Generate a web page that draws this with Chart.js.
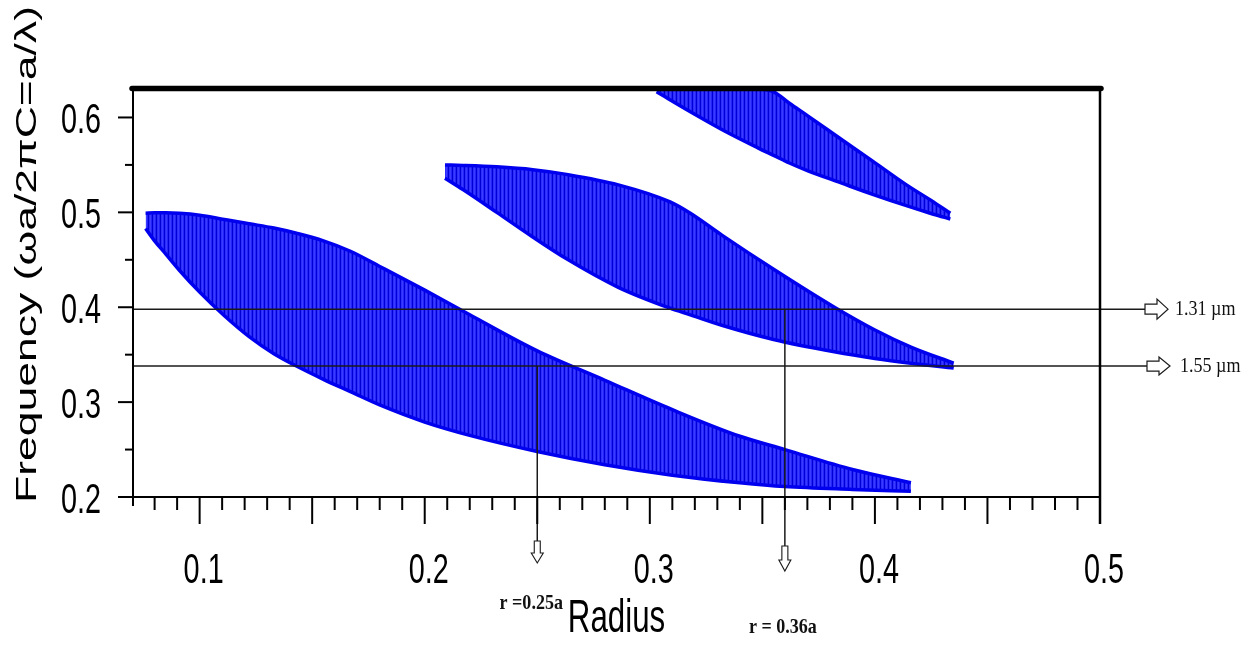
<!DOCTYPE html>
<html>
<head>
<meta charset="utf-8">
<script src="https://cdn.jsdelivr.net/npm/chart.js@4.4.1/dist/chart.umd.min.js"></script>
<style>
  html, body { margin: 0; padding: 0; background: #fff; }
  #wrap { width: 1247px; height: 650px; }
</style>
</head>
<body>
<div id="wrap"><canvas id="bandgap-chart" width="1247" height="650"></canvas></div>
<script>
// lowest gap
const band1Radius = [0.076, 0.080, 0.085, 0.091, 0.1, 0.111, 0.122, 0.133, 0.143, 0.155, 0.167, 0.18, 0.2, 0.22, 0.25, 0.28, 0.31, 0.34, 0.36, 0.39, 0.416];
const band1Lower  = [0.483, 0.470, 0.456, 0.439, 0.416, 0.391, 0.369, 0.351, 0.338, 0.324, 0.311, 0.297, 0.279, 0.265, 0.248, 0.234, 0.223, 0.215, 0.211, 0.208, 0.206];
const band1Upper  = [0.499, 0.4995, 0.4995, 0.499, 0.497, 0.4925, 0.488, 0.4835, 0.478, 0.470, 0.459, 0.443, 0.418, 0.392, 0.354, 0.323, 0.292, 0.264, 0.250, 0.229, 0.215];

// middle gap
const band2Radius = [0.209, 0.217, 0.232, 0.248, 0.263, 0.286, 0.309, 0.318, 0.332, 0.355, 0.382, 0.40, 0.416, 0.435];
const band2Lower  = [0.536, 0.524, 0.500, 0.474, 0.451, 0.421, 0.399, 0.392, 0.381, 0.366, 0.353, 0.346, 0.341, 0.336];
const band2Upper  = [0.550, 0.5495, 0.548, 0.545, 0.540, 0.529, 0.511, 0.499, 0.476, 0.440, 0.400, 0.376, 0.358, 0.341];

// top gap (cut off by the top of the plot)
const band3Radius = [0.303, 0.318, 0.333, 0.348, 0.355, 0.362, 0.370, 0.385, 0.399, 0.414, 0.426, 0.4335];
const band3Lower  = [0.627, 0.606, 0.586, 0.568, 0.560, 0.552, 0.544, 0.531, 0.519, 0.507, 0.498, 0.493];
const band3Upper  = [0.630, 0.630, 0.630, 0.630, 0.627, 0.615, 0.602, 0.577, 0.554, 0.529, 0.511, 0.499];

const xTickValues = [0.1, 0.2, 0.3, 0.4, 0.5];
const xTickLabels = ['0.1', '0.2', '0.3', '0.4', '0.5'];
const yTickValues = [0.2, 0.3, 0.4, 0.5, 0.6];
const yTickLabels = ['0.2', '0.3', '0.4', '0.5', '0.6'];

const wavelengthFreqs  = [0.398, 0.338];
const wavelengthLabels = ['1.31 µm', '1.55 µm'];
const radiusMarks      = [0.25, 0.36];
const radiusMarkFrom   = [0.338, 0.398];
const radiusLabels     = ['r =0.25a', 'r = 0.36a'];

const xAxisTitle = 'Radius';
const yAxisTitle = 'Frequency (\u03c9a/2\u03c0C=a/\u03bb)';

const canvas = document.getElementById('bandgap-chart');
const ctx = canvas.getContext('2d');

function stripePattern() {
  const c = document.createElement('canvas');
  c.width = 4; c.height = 4;
  const g = c.getContext('2d');
  ['#0000d4', '#2c2cff', '#3c3cff', '#2424fa'].forEach((col, i) => {
    g.fillStyle = col;
    g.fillRect(i, 0, 1, 4);
  });
  return ctx.createPattern(c, 'repeat');
}
const stripes = stripePattern();

function pts(xs, ys) {
  return xs.map((x, i) => ({ x: x, y: ys[i] }));
}

function edge(xs, ys, fill) {
  return {
    data: pts(xs, ys),
    borderColor: '#0000ee',
    borderWidth: 3.5,
    pointRadius: 0,
    cubicInterpolationMode: 'monotone',
    fill: fill,
    backgroundColor: stripes
  };
}

function squeezed(text, x, y, sx, align) {
  ctx.save();
  ctx.translate(x, y);
  ctx.scale(sx, 1);
  ctx.textAlign = align;
  ctx.fillText(text, 0, 0);
  ctx.restore();
}

function line(x1, y1, x2, y2) {
  ctx.beginPath();
  ctx.moveTo(x1, y1);
  ctx.lineTo(x2, y2);
  ctx.stroke();
}

// hollow block arrows
function arrowRight(x, y, shaft, head, half) {
  ctx.beginPath();
  ctx.moveTo(x, y - 5);
  ctx.lineTo(x + shaft, y - 5);
  ctx.lineTo(x + shaft, y - half);
  ctx.lineTo(x + shaft + head, y);
  ctx.lineTo(x + shaft, y + half);
  ctx.lineTo(x + shaft, y + 5);
  ctx.lineTo(x, y + 5);
  ctx.closePath();
  ctx.fillStyle = '#fff';
  ctx.fill();
  ctx.stroke();
}

function arrowDown(x, y, shaft, head) {
  ctx.beginPath();
  ctx.moveTo(x - 3, y);
  ctx.lineTo(x - 3, y + shaft);
  ctx.lineTo(x - 6, y + shaft);
  ctx.lineTo(x, y + shaft + head);
  ctx.lineTo(x + 6, y + shaft);
  ctx.lineTo(x + 3, y + shaft);
  ctx.lineTo(x + 3, y);
  ctx.closePath();
  ctx.fillStyle = '#fff';
  ctx.fill();
  ctx.stroke();
}

const framePlugin = {
  id: 'frame',
  afterDraw(chart) {
    const xs = chart.scales.x, ys = chart.scales.y;
    const a = chart.chartArea;
    ctx.save();
    ctx.strokeStyle = '#1a1a1a';

    // wavelength lines and arrows
    wavelengthFreqs.forEach((f, i) => {
      const py = ys.getPixelForValue(f);
      const end = a.right + 45 + i * 2;
      ctx.lineWidth = 1.5;
      line(a.left, py, end, py);
      ctx.lineWidth = 1.2;
      arrowRight(end, py, 12, 11, i === 0 ? 10 : 9);
      ctx.fillStyle = '#111';
      ctx.font = '22px "Liberation Serif", "Times New Roman", serif';
      ctx.textBaseline = 'middle';
      squeezed(wavelengthLabels[i], end + 30 + i * 3, py, 0.82, 'left');
    });

    // radius markers
    radiusMarks.forEach((r, i) => {
      const px = xs.getPixelForValue(r);
      const top = ys.getPixelForValue(radiusMarkFrom[i]);
      const arrowTop = i === 0 ? 541 : 546;
      ctx.lineWidth = 1.5;
      line(px, top, px, arrowTop);
      ctx.lineWidth = 1.1;
      arrowDown(px, arrowTop, i === 0 ? 12 : 14, i === 0 ? 10 : 11);
      ctx.fillStyle = '#111';
      ctx.font = 'bold 22px "Liberation Serif", "Times New Roman", serif';
      ctx.textBaseline = 'middle';
      squeezed(radiusLabels[i], px - (i === 0 ? 6 : 2), i === 0 ? 603 : 627, 0.82, 'center');
    });

    // frame
    ctx.strokeStyle = '#000';
    ctx.lineWidth = 2;
    line(a.left, a.top - 3, a.left, a.bottom + 9);
    line(a.left - 15, a.bottom, a.right, a.bottom);
    ctx.lineWidth = 2.5;
    line(a.right, a.top, a.right, a.bottom + 27);
    ctx.lineWidth = 5.5;
    ctx.lineCap = 'round';
    line(a.left - 1, a.top - 0.5, a.right + 1, a.top - 0.5);
    ctx.lineCap = 'butt';

    // y ticks: every 0.05, long on the tenths
    ctx.lineWidth = 2;
    for (let k = 0; k <= 8; k++) {
      const v = 0.2 + k * 0.05;
      const py = ys.getPixelForValue(v);
      line(a.left - (k % 2 === 0 ? 15 : 8), py, a.left, py);
    }
    // x ticks: every 0.01, long on every 0.05
    for (let k = 8; k <= 50; k++) {
      const px = xs.getPixelForValue(k / 100);
      line(px, a.bottom, px, a.bottom + (k % 5 === 0 ? 27 : 13));
    }

    // tick labels
    ctx.fillStyle = '#000';
    ctx.font = '43px "Liberation Sans", Arial, sans-serif';
    ctx.textBaseline = 'middle';
    yTickValues.forEach((v, i) => {
      squeezed(yTickLabels[i], a.left - 32, ys.getPixelForValue(v) + 4, 0.67, 'right');
    });
    xTickValues.forEach((v, i) => {
      squeezed(xTickLabels[i], xs.getPixelForValue(v) + 4, a.bottom + 74, 0.67, 'center');
    });

    // axis titles
    ctx.font = '46px "Liberation Sans", Arial, sans-serif';
    ctx.textBaseline = 'alphabetic';
    squeezed(xAxisTitle, (a.left + a.right) / 2, 632, 0.68, 'center');

    ctx.font = '29px "Liberation Sans", Arial, sans-serif';
    const stretch = 497 / ctx.measureText(yAxisTitle).width;
    ctx.save();
    ctx.translate(36, 503);
    ctx.rotate(-Math.PI / 2);
    ctx.scale(stretch, 1);
    ctx.textAlign = 'left';
    ctx.fillText(yAxisTitle, 0, 0);
    ctx.restore();

    ctx.restore();
  }
};

new Chart(ctx, {
  type: 'line',
  data: {
    datasets: [
      edge(band1Radius, band1Lower, false),
      edge(band1Radius, band1Upper, '-1'),
      edge(band2Radius, band2Lower, false),
      edge(band2Radius, band2Upper, '-1'),
      edge(band3Radius, band3Lower, false),
      edge(band3Radius, band3Upper, '-1')
    ]
  },
  options: {
    responsive: false,
    animation: false,
    devicePixelRatio: 1,
    layout: { padding: { top: 89, right: 147, left: 0, bottom: 0 } },
    plugins: { legend: { display: false }, tooltip: { enabled: false } },
    scales: {
      x: {
        type: 'linear', min: 0.0704, max: 0.5,
        ticks: { display: false }, grid: { display: false }, border: { display: false },
        afterFit: s => { s.height = 153; }
      },
      y: {
        type: 'linear', min: 0.2, max: 0.63,
        ticks: { display: false }, grid: { display: false }, border: { display: false },
        afterFit: s => { s.width = 133; }
      }
    }
  },
  plugins: [framePlugin]
});
</script>
</body>
</html>
